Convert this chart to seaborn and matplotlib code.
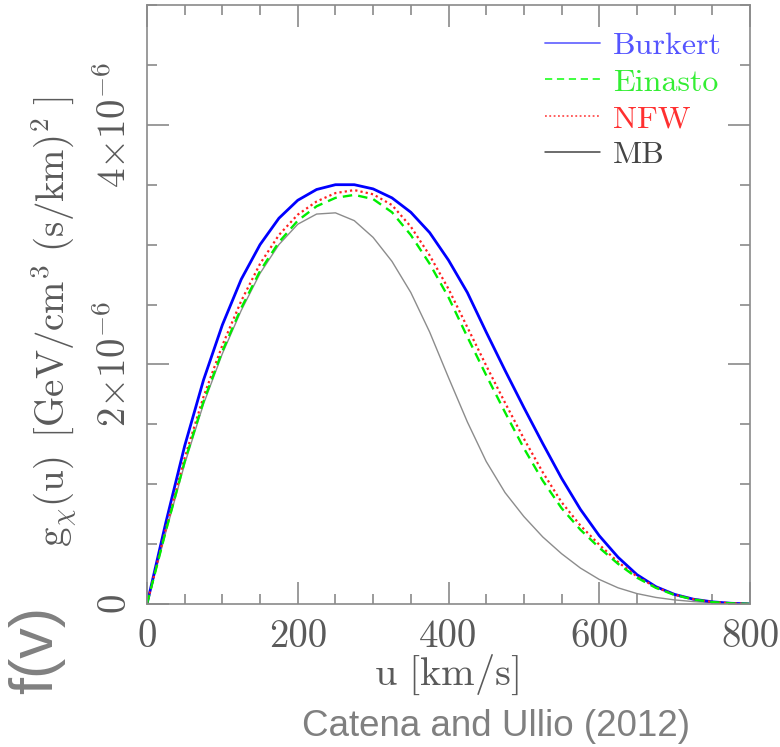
import numpy as np
import pandas as pd
import matplotlib
matplotlib.use("Agg")
import matplotlib.pyplot as plt
import seaborn as sns
from matplotlib.lines import Line2D
from matplotlib.ticker import FixedLocator, FixedFormatter, MultipleLocator

# ---- data (g in units of 1e-6 GeV/cm^3 (s/km)^2) ----
u = [0, 25, 50, 75, 100, 125, 150, 175, 200, 225, 250, 275, 300, 325, 350, 375,
     400, 425, 450, 475, 500, 525, 550, 575, 600, 625, 650, 675, 700, 725, 750, 775, 800]
burkert = [0.00, 0.68, 1.32, 1.87, 2.33, 2.71, 3.00, 3.22, 3.37, 3.46, 3.50, 3.50, 3.465, 3.39, 3.27, 3.10,
           2.87, 2.60, 2.27, 1.95, 1.64, 1.34, 1.05, 0.79, 0.57, 0.39, 0.245, 0.145, 0.08, 0.04, 0.018, 0.006, 0.001]
einasto = [0.00, 0.61, 1.19, 1.69, 2.11, 2.47, 2.78, 3.02, 3.20, 3.32, 3.39, 3.415, 3.38, 3.27, 3.08, 2.84,
           2.56, 2.23, 1.91, 1.60, 1.30, 1.03, 0.80, 0.62, 0.47, 0.335, 0.22, 0.135, 0.075, 0.038, 0.016, 0.006, 0.001]
nfw = [0.00, 0.63, 1.22, 1.73, 2.16, 2.53, 2.84, 3.08, 3.25, 3.36, 3.43, 3.455, 3.42, 3.33, 3.15, 2.91,
       2.63, 2.31, 1.99, 1.68, 1.38, 1.10, 0.85, 0.655, 0.495, 0.35, 0.23, 0.14, 0.078, 0.04, 0.017, 0.006, 0.001]
mb = [0.00, 0.60, 1.17, 1.67, 2.09, 2.45, 2.76, 3.00, 3.17, 3.255, 3.265, 3.20, 3.06, 2.86, 2.60, 2.27,
      1.89, 1.52, 1.19, 0.93, 0.73, 0.56, 0.42, 0.30, 0.205, 0.135, 0.087, 0.055, 0.034, 0.02, 0.011, 0.005, 0.002]

series_names = ["Burkert", "Einasto", "NFW", "MB"]
x_ticks = [0, 200, 400, 600, 800]
x_ticklabels = ["0", "200", "400", "600", "800"]
y_ticks = [0, 2e-6, 4e-6]
y_ticklabels = [r"$0$", r"$2{\times}10^{-6}$", r"$4{\times}10^{-6}$"]

sns.set_style("white")
plt.rcParams["mathtext.fontset"] = "cm"
plt.rcParams["font.family"] = ["cmr10", "DejaVu Serif"]
plt.rcParams["axes.formatter.use_mathtext"] = True

txt = "#5a5a5a"
frame = "#8a8a8a"

fig = plt.figure(figsize=(7.8, 7.47), dpi=100)
ax = fig.add_axes([147 / 780, 143 / 747, 603 / 780, 599 / 747])

def frame_of(vals):
    return pd.DataFrame({"u": u, "g": np.array(vals) * 1e-6})

sns.lineplot(data=frame_of(mb), x="u", y="g", ax=ax, color="#8c8c8c", lw=1.0,
             estimator=None, sort=False, legend=False)
sns.lineplot(data=frame_of(burkert), x="u", y="g", ax=ax, color="#0000ff", lw=2.0,
             estimator=None, sort=False, legend=False)
sns.lineplot(data=frame_of(nfw), x="u", y="g", ax=ax, color="#ff2020", lw=1.6,
             linestyle=(0, (1, 1.4)), estimator=None, sort=False, legend=False)
sns.lineplot(data=frame_of(einasto), x="u", y="g", ax=ax, color="#00ee00", lw=1.7,
             linestyle=(0, (4, 2.6)), estimator=None, sort=False, legend=False)

ax.set_xlim(0, 800)
ax.set_ylim(0, 5e-6)

ax.xaxis.set_major_locator(FixedLocator(x_ticks))
ax.xaxis.set_major_formatter(FixedFormatter(x_ticklabels))
ax.xaxis.set_minor_locator(MultipleLocator(50))
ax.yaxis.set_major_locator(FixedLocator(y_ticks))
ax.yaxis.set_major_formatter(FixedFormatter(y_ticklabels))
ax.yaxis.set_minor_locator(MultipleLocator(0.5e-6))

for s in ax.spines.values():
    s.set_color(frame)
    s.set_linewidth(1.2)

ax.tick_params(which="both", direction="in", top=True, right=True, bottom=True, left=True,
               color=frame, width=1.2)
ax.tick_params(which="major", length=16)
ax.tick_params(which="minor", length=7.5)
ax.tick_params(axis="x", which="major", labelsize=28, labelcolor=txt, pad=11)
ax.tick_params(axis="y", which="major", labelsize=28, labelcolor=txt, pad=9, labelrotation=90)
for lab in ax.get_yticklabels():
    lab.set_va("center")

ax.set_xlabel(r"$\mathrm{u\ [km/s]}$", fontsize=29, color=txt)
ax.set_ylabel(r"$\mathrm{g}_{\chi}\mathrm{(u)\ \,[GeV/cm^{3}\ (s/km)^{2}\ ]}$", fontsize=28, color=txt)
ax.xaxis.set_label_coords(0.497, -0.082)
ax.yaxis.set_label_coords(-0.113, 0.472)

handles = [
    Line2D([], [], color="#6a6aff", lw=1.3),
    Line2D([], [], color="#30ff30", lw=1.3, linestyle=(0, (4, 2.6))),
    Line2D([], [], color="#ff5050", lw=1.3, linestyle=(0, (1, 1.4))),
    Line2D([], [], color="#444444", lw=1.1),
]
leg = ax.legend(handles, series_names, loc="upper left", bbox_to_anchor=(0.66, 0.955),
                frameon=False, fontsize=23, handlelength=1.72, handletextpad=0.42,
                labelspacing=0.25, borderpad=0, borderaxespad=0,
                labelcolor=["#5555ff", "#33ee33", "#ff3030", "#444444"])

fig.text(37 / 780, 1 - 650 / 747, "f(v)", rotation=90, fontsize=44, color="#808080",
         family=["Liberation Sans", "DejaVu Sans"], ha="center", va="center")
fig.text(496 / 780, 1 - 727 / 747, "Catena and Ullio (2012)", fontsize=26.5, color="#808080",
         family=["Liberation Sans", "DejaVu Sans"], ha="center", va="center")

fig.savefig("out.png", dpi=100, facecolor="white")
